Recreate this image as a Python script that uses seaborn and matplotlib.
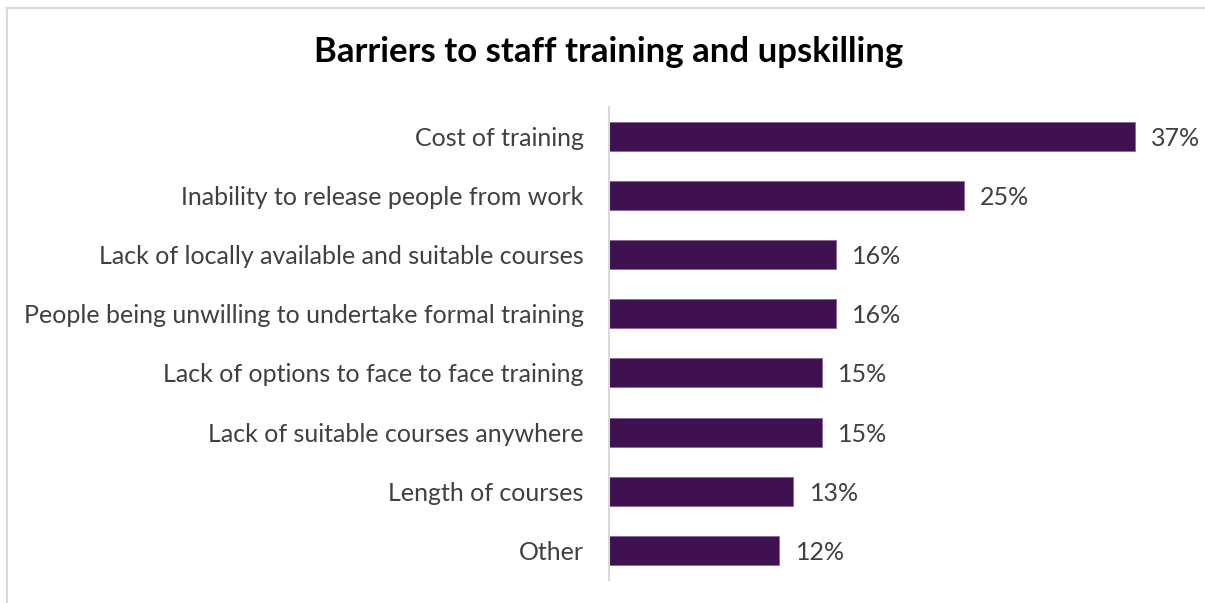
import matplotlib
matplotlib.use("Agg")
import matplotlib.pyplot as plt
from matplotlib.lines import Line2D
import seaborn as sns
import pandas as pd

categories = [
    "Cost of training",
    "Inability to release people from work",
    "Lack of locally available and suitable courses",
    "People being unwilling to undertake formal training",
    "Lack of options to face to face training",
    "Lack of suitable courses anywhere",
    "Length of courses",
    "Other",
]
values = [37, 25, 16, 16, 15, 15, 13, 12]
value_labels = ["37%", "25%", "16%", "16%", "15%", "15%", "13%", "12%"]

BAR_COLOR = "#3F1150"
TEXT_COLOR = "#404040"

sns.set_theme(style="white")
plt.rcParams["font.family"] = ["Lato", "DejaVu Sans"]

df = pd.DataFrame({"barrier": categories, "pct": values})

fig = plt.figure(figsize=(12.05, 6.03), dpi=100)
ax = fig.add_axes([0.505, 0.038, 0.472, 0.785])

sns.barplot(data=df, x="pct", y="barrier", color=BAR_COLOR, width=0.49,
            saturation=1, ax=ax, edgecolor="#8a6a96", linewidth=0.6)

for i, (v, lab) in enumerate(zip(values, value_labels)):
    ax.text(v + 1.15, i, lab, va="center_baseline", ha="left", fontsize=18,
            color=TEXT_COLOR)

ax.set_xlim(0, 40)
ax.set_ylim(7.5, -0.5)
ax.set_xlabel("")
ax.set_ylabel("")
ax.set_xticks([])
for s in ["top", "right", "bottom"]:
    ax.spines[s].set_visible(False)
ax.spines["left"].set_color("#D9D9D9")
ax.spines["left"].set_linewidth(1.5)
ax.tick_params(axis="y", length=0, pad=18, labelsize=18, labelcolor=TEXT_COLOR)
for t in ax.get_yticklabels():
    t.set_verticalalignment("center_baseline")

fig.text(0.505, 0.913, "Barriers to staff training and upskilling", ha="center",
         va="center", fontsize=25, fontweight="bold", color="black")

# chart frame
fig.add_artist(Line2D([0.005, 1.0], [0.987, 0.987], color="#D9D9D9", lw=1.5,
                      transform=fig.transFigure))
fig.add_artist(Line2D([0.006, 0.006], [0.0, 0.987], color="#D9D9D9", lw=1.5,
                      transform=fig.transFigure))

fig.savefig("out.png", dpi=100)
